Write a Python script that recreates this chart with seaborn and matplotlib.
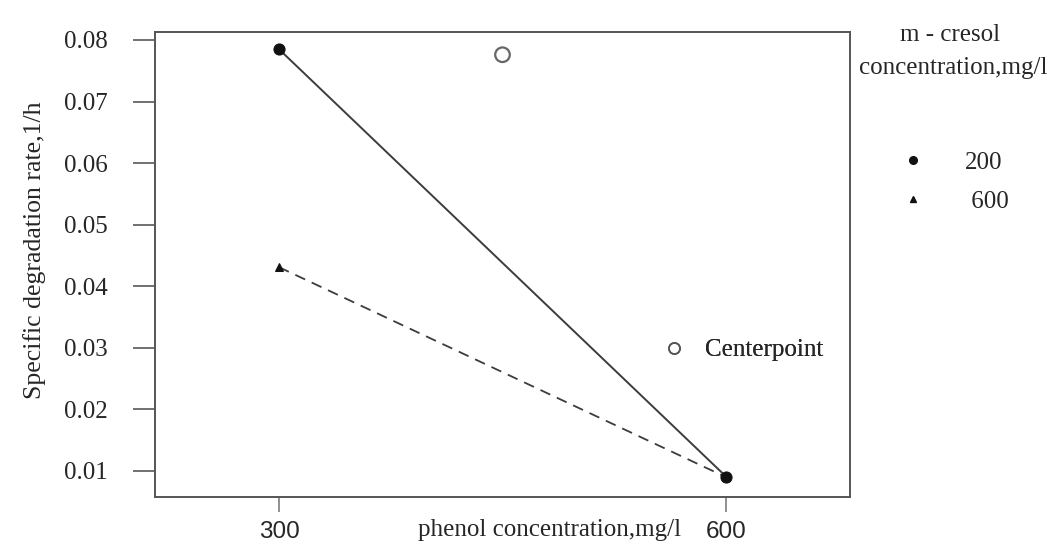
import numpy as np
import pandas as pd
import matplotlib
matplotlib.use("Agg")
import matplotlib.pyplot as plt
from matplotlib.lines import Line2D
import seaborn as sns

# Specific degradation rate (1/h) vs phenol concentration, per m-cresol level
phenol = [300, 600]
rate_cresol_200 = [0.0785, 0.0091]
rate_cresol_600 = [0.0431, 0.0090]
center_phenol = [450]
center_rate = [0.0776]
cresol_levels = ["200", "600"]
y_ticks = [0.01, 0.02, 0.03, 0.04, 0.05, 0.06, 0.07, 0.08]
x_ticks = [300, 600]

df = pd.DataFrame({
    "phenol": phenol * 2,
    "rate": rate_cresol_200 + rate_cresol_600,
    "cresol": [cresol_levels[0]] * 2 + [cresol_levels[1]] * 2,
})
centre = pd.DataFrame({"phenol": center_phenol, "rate": center_rate})

sns.set_style("ticks")
plt.rcParams["font.family"] = ["Liberation Serif", "DejaVu Serif"]

fig = plt.figure(figsize=(10.53, 5.5), dpi=100)
ax = fig.add_axes([0.1472, 0.0964, 0.6600, 0.8455])

line_col = "#3c3c3c"
sns.lineplot(data=df[df.cresol == "600"], x="phenol", y="rate", ax=ax,
             color=line_col, lw=1.3, linestyle=(0, (6, 4)),
             marker="^", markersize=6, markerfacecolor="#111",
             markeredgecolor="#111", legend=False)
sns.lineplot(data=df[df.cresol == "200"], x="phenol", y="rate", ax=ax,
             color=line_col, lw=1.4, marker="o", markersize=8,
             markerfacecolor="#111", markeredgecolor="#111", legend=False)
sns.scatterplot(data=centre, x="phenol", y="rate", ax=ax, marker="o",
                s=110, facecolor="none", edgecolor="#666", linewidth=1.6,
                legend=False)

ax.set_xlim(216.8, 683.2)
ax.set_ylim(0.00578, 0.0813)
ax.set_xticks(x_ticks, [str(v) for v in x_ticks],
              fontfamily="Liberation Sans", fontsize=17.5)
ax.set_yticks(y_ticks, [f"{v:.2f}" for v in y_ticks], fontsize=18)

for s in ax.spines.values():
    s.set_color("#555")
    s.set_linewidth(1.4)
ax.tick_params(axis="y", length=16, width=1.3, color="#666", pad=18)
ax.tick_params(axis="x", length=11, width=1.3, color="#888", pad=6)

ax.set_xlabel("phenol concentration,mg/l", fontsize=18, va="center")
ax.xaxis.set_label_coords(0.568, -0.071)
ax.set_ylabel("Specific degradation rate,1/h", fontsize=18.5, va="center")
ax.yaxis.set_label_coords(-0.174, 0.531)

# Centerpoint key inside the plot area
cp_handle = Line2D([], [], linestyle="none", marker="o", markersize=8,
                   markerfacecolor="none", markeredgecolor="#555",
                   markeredgewidth=1.2)
leg_cp = ax.legend([cp_handle], ["Centerpoint"], loc="center left",
                   bbox_to_anchor=(0.7288, 0.316), frameon=False,
                   fontsize=18, handlelength=1.0, handletextpad=0.74,
                   borderpad=0, borderaxespad=0)
ax.add_artist(leg_cp)

# m-cresol key outside the plot area
fig.text(950 / 1053, 1 - 35 / 550, "m - cresol", ha="center", va="center",
         fontsize=18)
fig.text(953 / 1053, 1 - 68 / 550, "concentration,mg/l", ha="center",
         va="center", fontsize=18)
h200 = Line2D([], [], linestyle="none", marker="o", markersize=5.5,
              color="#111")
h600 = Line2D([], [], linestyle="none", marker="^", markersize=5,
              color="#111")
fig.legend([h200, h600], [cresol_levels[0], " " + cresol_levels[1]],
           loc="center left", bbox_to_anchor=(900 / 1053, 1 - 182 / 550),
           frameon=False, fontsize=18, handlelength=1.0,
           handletextpad=1.6, labelspacing=0.65, borderpad=0,
           borderaxespad=0)

fig.savefig("out.png", dpi=100)
